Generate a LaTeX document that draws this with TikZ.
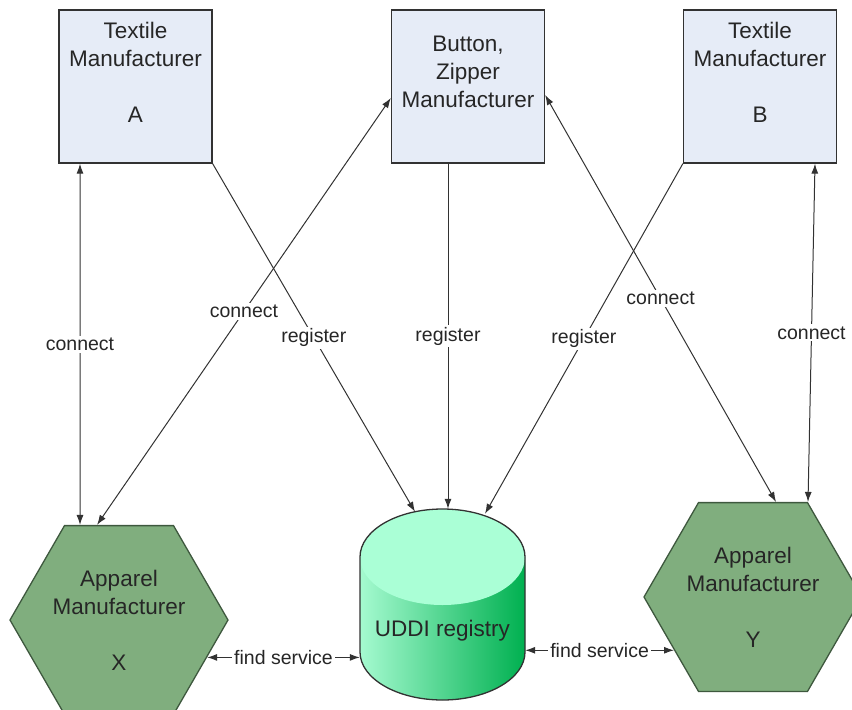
\documentclass[tikz,border=0pt]{standalone}
\usepackage{fontspec}
\setmainfont{Liberation Sans}
\usetikzlibrary{shapes.geometric,arrows.meta}
\definecolor{boxfill}{RGB}{230,236,247}
\definecolor{edgegrey}{RGB}{50,50,50}
\definecolor{hexfill}{RGB}{128,174,126}
\definecolor{hexline}{RGB}{62,88,62}
\definecolor{cyltop}{RGB}{170,255,214}
\definecolor{cylleft}{RGB}{165,250,208}
\definecolor{cylright}{RGB}{0,176,80}

\begin{document}
\begin{tikzpicture}[x=1pt,y=-1pt,
	maker/.style={draw=edgegrey,line width=1.3pt,fill=boxfill,minimum size=153pt,inner sep=0pt,align=center,text=black!85,font=\fontsize{22.5}{28}\selectfont},
	apparel/.style={regular polygon,regular polygon sides=6,minimum size=218pt,inner sep=0pt,draw=hexline,line width=1.3pt,fill=hexfill,align=center,text=black!85,font=\fontsize{22.5}{28}\selectfont},
	link/.style={draw=edgegrey,line width=1pt,{Latex[length=10pt,width=7pt]}-{Latex[length=10pt,width=7pt]}},
	oneway/.style={draw=edgegrey,line width=1pt,-{Latex[length=10pt,width=7pt]}},
	lbl/.style={fill=white,inner sep=2pt,text=black!85,font=\fontsize{19.5}{22}\selectfont}]
	\useasboundingbox (0,0) rectangle (852,710);

	% suppliers
	\node[maker] (texA) at (135.5,86.5) {Textile\\Manufacturer\\[28pt]A\rule[-29pt]{0pt}{29pt}};
	\node[maker] (btn) at (468,86.5) {Button,\\Zipper\\Manufacturer\rule[-29pt]{0pt}{29pt}};
	\node[maker] (texB) at (760,86.5) {Textile\\Manufacturer\\[28pt]B\rule[-29pt]{0pt}{29pt}};

	% apparel makers
	\node[apparel] (appX) at (119,620) {Apparel\\Manufacturer\\[28pt]X};
	\node[apparel] (appY) at (753,597) {Apparel\\Manufacturer\\[28pt]Y};

	% registry
	\shade[left color=cylleft,right color=cylright] (360,557) -- (360,652) arc[start angle=180,end angle=0,x radius=82.5,y radius=48] -- (525,557) arc[start angle=0,end angle=-180,x radius=82.5,y radius=48] -- cycle;
	\fill[cyltop] (442.5,557) ellipse[x radius=82.5,y radius=48];
	\draw[edgegrey,line width=1.3pt] (360,557) -- (360,652) arc[start angle=180,end angle=0,x radius=82.5,y radius=48] -- (525,557) arc[start angle=0,end angle=-180,x radius=82.5,y radius=48] -- cycle;
	\node[minimum width=165pt,minimum height=191pt,text height=63pt,text depth=0pt,inner sep=0pt,text=black!85,font=\fontsize{22.5}{28}\selectfont] (uddi) at (442.5,604.5) {UDDI registry};

	% register
	\draw[oneway] (texA.south east) -- node[lbl] {register} ([xshift=-27.5pt,yshift=-3pt]uddi.north);
	\draw[oneway] ([xshift=-20pt]btn.south) -- node[lbl] {register} ([xshift=5.5pt]uddi.north);
	\draw[oneway] (texB.south west) -- node[lbl] {register} ([xshift=42.5pt,yshift=-5pt]uddi.north);

	% connect
	\draw[link] ([xshift=-55.5pt]texA.south) -- node[lbl] {connect} ([xshift=-39pt]appX.north);
	\draw[link] ([xshift=-22pt]appX.north) -- node[lbl] {connect} ([yshift=-11.5pt]btn.west);
	\draw[link] ([yshift=-8.5pt]btn.east) -- node[lbl] {connect} ([xshift=23pt]appY.north);
	\draw[link] ([xshift=55pt]texB.south) -- node[lbl] {connect} ([xshift=55pt]appY.north);

	% find service
	\draw[link] (appX.-23) -- node[lbl] {find service} (appX.-23 -| uddi.west);
	\draw[link] (appY.214 -| uddi.east) -- node[lbl] {find service} (appY.214);
\end{tikzpicture}
\end{document}
